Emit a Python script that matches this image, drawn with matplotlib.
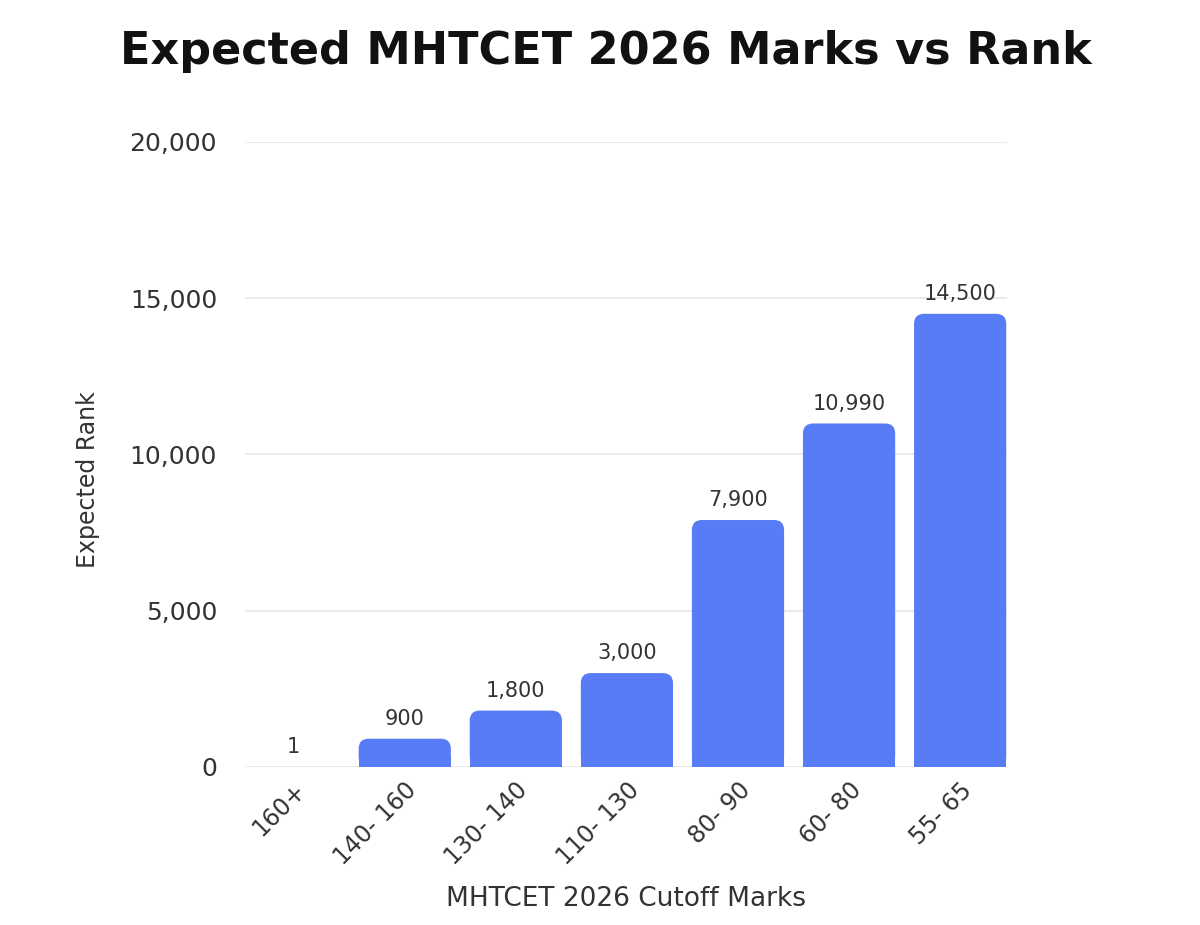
import matplotlib.pyplot as plt
from matplotlib.patches import FancyBboxPatch, Rectangle
from matplotlib.ticker import FuncFormatter

categories = ['160+', '140- 160', '130- 140', '110- 130', '80- 90', '60- 80', '55- 65']
ranks = [1, 900, 1800, 3000, 7900, 10990, 14500]
yticks = [0, 5000, 10000, 15000, 20000]

bar_color = '#587cf6'
text_color = '#333333'

fig = plt.figure(figsize=(12, 9.25), dpi=100)
ax = fig.add_axes([0.204, 0.171, 0.635, 0.6755])

x = list(range(len(categories)))
bars = ax.bar(x, ranks, width=0.83, color=bar_color, zorder=2)
ax.set_xlim(-0.44, 6.42)
ax.set_ylim(0, 20000)

# swap plain bars for ones with rounded tops
fig.canvas.draw()
p0 = ax.transData.transform((0, 0))
p1 = ax.transData.transform((1, 1))
aspect = (p1[0] - p0[0]) / (p1[1] - p0[1])
r = 10 / (p1[0] - p0[0])
for b in bars:
    bx, bw, bh = b.get_x(), b.get_width(), b.get_height()
    if bh > 2 * r * aspect:
        b.set_visible(False)
        ax.add_patch(FancyBboxPatch((bx, 0), bw, bh,
                                    boxstyle=f'round,pad=0,rounding_size={r}',
                                    mutation_aspect=aspect, fc=bar_color,
                                    ec='none', zorder=2))
        ax.add_patch(Rectangle((bx, 0), bw, r * aspect, fc=bar_color,
                               ec='none', zorder=2))

for xi, v in zip(x, ranks):
    ax.annotate(f'{v:,}', (xi, v), xytext=(0, 7), textcoords='offset points',
                ha='center', va='bottom', fontsize=15, color=text_color)

ax.set_yticks(yticks)
ax.yaxis.set_major_formatter(FuncFormatter(lambda v, p: f'{int(v):,}'))
ax.set_xticks(x)
ax.set_xticklabels(categories, rotation=45, ha='right', rotation_mode='anchor')
ax.tick_params(axis='both', length=0, labelsize=18, colors=text_color)
ax.tick_params(axis='x', labelsize=17, pad=8)
ax.tick_params(axis='y', pad=20)
ax.grid(axis='y', color='#e6e6e6', linewidth=1.2, zorder=0)
for s in ax.spines.values():
    s.set_visible(False)

ax.set_ylabel('Expected Rank', fontsize=17, color=text_color)
ax.yaxis.set_label_coords(-0.19, 0.46)
ax.set_xlabel('MHTCET 2026 Cutoff Marks', fontsize=19, color=text_color, labelpad=12)
fig.text(0.505, 0.944, 'Expected MHTCET 2026 Marks vs Rank', ha='center', va='center',
         fontsize=32, fontweight='bold', color='#111111')

fig.savefig('out.png', dpi=100)
